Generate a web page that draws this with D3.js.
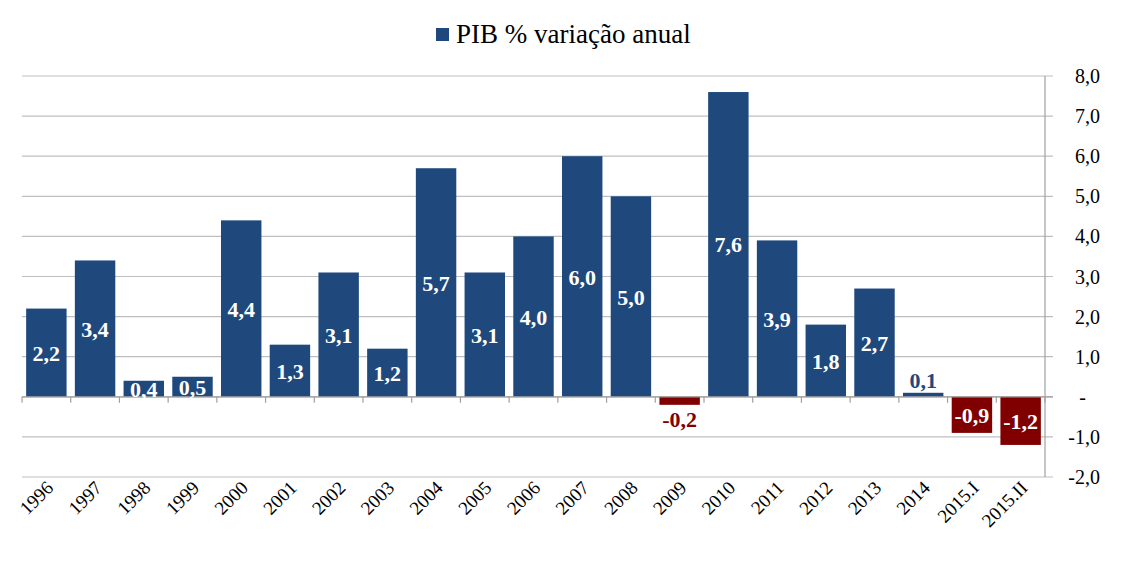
<!DOCTYPE html>
<html><head><meta charset="utf-8">
<script src="https://cdn.jsdelivr.net/npm/d3@7"></script>
<style>body{margin:0;background:#fff}</style>
</head><body><div id="chart"></div>
<script>
// PIB annual variation
var categories = ["1996","1997","1998","1999","2000","2001","2002","2003","2004","2005","2006","2007","2008","2009","2010","2011","2012","2013","2014","2015.I","2015.II"];
var values = [2.2,3.4,0.4,0.5,4.4,1.3,3.1,1.2,5.7,3.1,4.0,6.0,5.0,-0.2,7.6,3.9,1.8,2.7,0.1,-0.9,-1.2];
var yTicks = [-2,-1,0,1,2,3,4,5,6,7,8];

(function () {
    "use strict";
    var w = 1136, h = 565, left = 22, right = 1045, top = 76, bottom = 477;
    var blue = "#1f497d", red = "#800000", font = "'Liberation Serif','Times New Roman',serif";
    var fmt = function (v) { return v.toFixed(1).replace(".", ","); };

    var svg = d3.select("#chart").append("svg").attr("width", w).attr("height", h);
    var x = d3.scaleBand().domain(categories).range([left, right]).paddingInner(0.17).paddingOuter(0.085);
    var y = d3.scaleLinear().domain([-2, 8]).range([bottom, top]);

    svg.selectAll("line.grid").data(yTicks).enter().append("line")
        .attr("x1", left).attr("x2", right + 8)
        .attr("y1", function (d) { return y(d); }).attr("y2", function (d) { return y(d); })
        .attr("stroke", "#bfbfbf").attr("stroke-width", 1.2);
    svg.append("line").attr("x1", right).attr("x2", right).attr("y1", top).attr("y2", bottom)
        .attr("stroke", "#a0a0a0").attr("stroke-width", 1.2);
    svg.selectAll("text.ytick").data(yTicks).enter().append("text")
        .attr("x", 1100).attr("y", function (d) { return y(d) + 7; })
        .attr("text-anchor", "end").attr("font-family", font).attr("font-size", 20).attr("fill", "#000")
        .text(function (d) { return d === 0 ? "-" : fmt(d); })
        .attr("dx", function (d) { return d === 0 ? -14 : 0; });

    svg.selectAll("rect.bar").data(values).enter().append("rect")
        .attr("x", function (d, i) { return x(categories[i]); })
        .attr("y", function (d) { return y(Math.max(0, d)); })
        .attr("width", x.bandwidth())
        .attr("height", function (d) { return Math.abs(y(d) - y(0)); })
        .attr("fill", function (d) { return d < 0 ? red : blue; });

    // zero line with category ticks
    svg.append("line").attr("x1", left).attr("x2", right + 8).attr("y1", y(0)).attr("y2", y(0))
        .attr("stroke", "#a0a0a0").attr("stroke-width", 1.2);
    var step = x.step();
    svg.selectAll("line.ctick").data(d3.range(categories.length + 1)).enter().append("line")
        .attr("x1", function (i) { return left + i * step; }).attr("x2", function (i) { return left + i * step; })
        .attr("y1", y(0)).attr("y2", y(0) + 6).attr("stroke", "#a0a0a0").attr("stroke-width", 1.2);

    svg.selectAll("text.val").data(values).enter().append("text")
        .attr("x", function (d, i) { return x(categories[i]) + x.bandwidth() / 2; })
        .attr("y", function (d) {
            if (Math.abs(d) < 0.3) return d >= 0 ? y(d) - 5 : y(d) + 22;
            return (y(d) + y(0)) / 2 + 8;
        })
        .attr("text-anchor", "middle").attr("font-family", font).attr("font-size", 22).attr("font-weight", "bold")
        .attr("fill", function (d) { return Math.abs(d) < 0.3 ? (d < 0 ? red : blue) : "#fff"; })
        .text(fmt);

    svg.selectAll("text.cat").data(categories).enter().append("text")
        .attr("transform", function (d) { return "translate(" + (x(d) + x.bandwidth() / 2 + 8) + "," + (bottom + 12) + ") rotate(-45)"; })
        .attr("text-anchor", "end").attr("font-family", font).attr("font-size", 19).attr("fill", "#000")
        .text(function (d) { return d; });

    svg.append("rect").attr("x", 436).attr("y", 28).attr("width", 13).attr("height", 13).attr("fill", blue);
    svg.append("text").attr("x", 456).attr("y", 43).attr("font-family", font).attr("font-size", 27)
        .attr("fill", "#000").text("PIB % variação anual");
}());
</script></body></html>
